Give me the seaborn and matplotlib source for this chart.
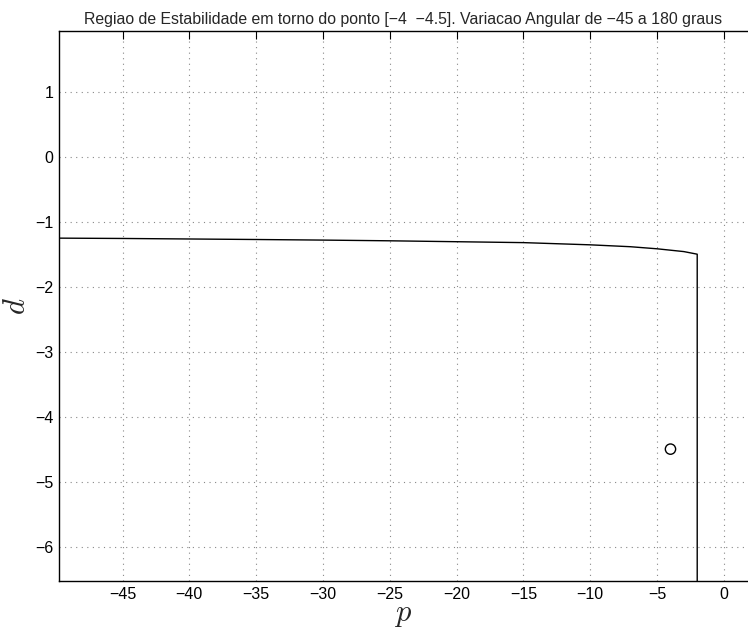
import numpy as np
import pandas as pd
import matplotlib
matplotlib.use("Agg")
import matplotlib.pyplot as plt
import seaborn as sns

# Boundary curve of the stability region
p_vals = [-49.75, -45, -40, -35, -30, -25, -20, -15, -10, -7, -5, -3, -2, -2]
d_vals = [-1.253, -1.258, -1.266, -1.274, -1.283, -1.294, -1.308, -1.322,
          -1.356, -1.385, -1.417, -1.46, -1.50, -6.6]
# Reference point
pt_p = [-4]
pt_d = [-4.5]

x_ticks = [-45, -40, -35, -30, -25, -20, -15, -10, -5, 0]
y_ticks = [-6, -5, -4, -3, -2, -1, 0, 1]
title = "Regiao de Estabilidade em torno do ponto [\u22124  \u22124.5]. Variacao Angular de \u221245 a 180 graus"

sns.set_theme(style="white")
plt.rcParams['font.family'] = ['Liberation Sans', 'DejaVu Sans']
plt.rcParams['mathtext.fontset'] = 'cm'

fig = plt.figure(figsize=(7.48, 6.31), dpi=100)
ax = fig.add_axes([0.0789, 0.0792, 0.9211, 0.8722])

curve = pd.DataFrame({"p": p_vals, "d": d_vals})
sns.lineplot(data=curve, x="p", y="d", sort=False, estimator=None,
             color="black", linewidth=1.0, ax=ax)
pts = pd.DataFrame({"p": pt_p, "d": pt_d})
sns.scatterplot(data=pts, x="p", y="d", marker="o", s=55,
                facecolor="none", edgecolor="black", linewidth=1.0, ax=ax)

ax.set_xlim(-49.75, 1.8)
ax.set_ylim(-6.53, 1.94)
ax.set_xticks(x_ticks)
ax.set_yticks(y_ticks)
ax.tick_params(direction="in", length=6, width=0.8, top=True, right=False,
               labelsize=11.5, colors="black", pad=4)
ax.grid(True, linestyle=(0, (1, 4)), color="#888888", linewidth=0.8)
for s in ax.spines.values():
    s.set_color("black")
    s.set_linewidth(1.0)
ax.spines["right"].set_visible(False)

ax.set_xlabel(r"$p$", fontsize=22, labelpad=-2)
ax.set_ylabel(r"$d$", fontsize=22, labelpad=2)
ax.set_title(title, fontsize=11.4, pad=5)

fig.savefig("out.png", dpi=100)
